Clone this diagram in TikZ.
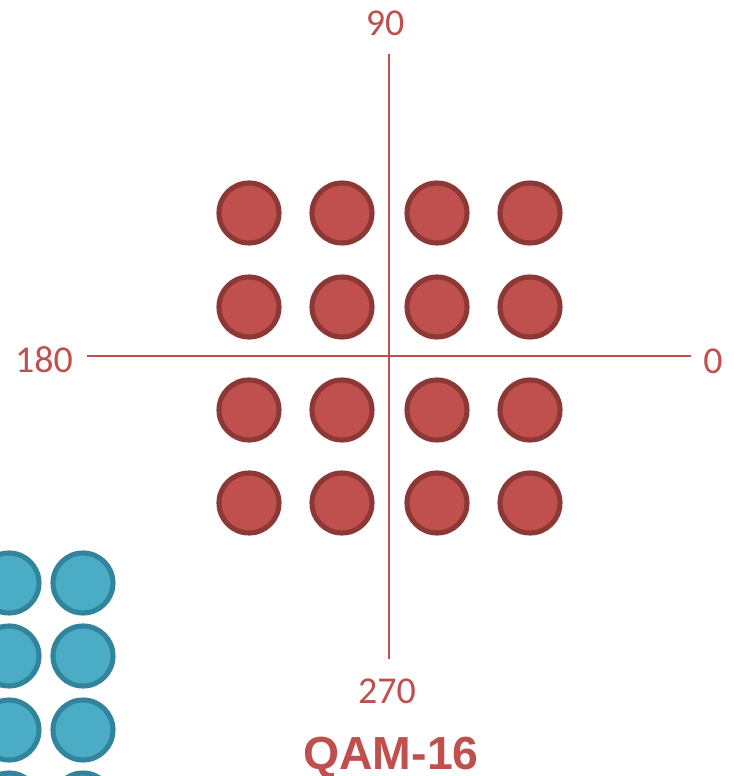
\documentclass[tikz,border=0pt]{standalone}
\usepackage{fontspec}
\setmainfont{Carlito}
\newfontfamily\headfont{Liberation Sans}
\usepackage{xcolor}
\usetikzlibrary{positioning}

\definecolor{qamred}{HTML}{C0504D}
\definecolor{qamredline}{HTML}{8C3836}
\definecolor{qamblue}{HTML}{4BACC6}
\definecolor{qambluedark}{HTML}{31849B}

\begin{document}
\begin{tikzpicture}[
  x=0.025cm, y=0.025cm,
  dot/.style={circle, draw=qamredline, fill=qamred, line width=3.6pt, minimum size=1.5cm, inner sep=0pt},
  bdot/.style={dot, draw=qambluedark, fill=qamblue},
  axis/.style={draw=qamred, line width=1.4pt},
  lbl/.style={font=\fontsize{27}{31}\selectfont, text=qamred, inner sep=0pt},
  heading/.style={font=\headfont\bfseries\fontsize{33}{38}\selectfont, text=qamred, inner sep=0pt}
]
\clip (-389,-420) rectangle (344,356);

% axes
\coordinate (top) at (0,302);
\coordinate (bot) at (0,-303);
\coordinate (west) at (-302,0);
\coordinate (east) at (302,0);
\draw[axis] (west) -- (east);
\draw[axis] (top) -- (bot);

\node[lbl] (l90) at (-4,333) {90};
\node[lbl] (l270) at (-2,-335) {270};
\node[lbl] (l180) at (-345,-4) {180};
\node[lbl] (l0) at (324,-5) {0};

% constellation points
\node[dot] (d11) at (-140,143) {};
\node[dot] (d12) at (-47,143) {};
\node[dot] (d13) at (48,143) {};
\node[dot] (d14) at (141,143) {};
\node[dot] (d21) at (-140,49) {};
\node[dot] (d22) at (-47,49) {};
\node[dot] (d23) at (48,49) {};
\node[dot] (d24) at (141,49) {};
\node[dot] (d31) at (-140,-54) {};
\node[dot] (d32) at (-47,-54) {};
\node[dot] (d33) at (48,-54) {};
\node[dot] (d34) at (141,-54) {};
\node[dot] (d41) at (-140,-147) {};
\node[dot] (d42) at (-47,-147) {};
\node[dot] (d43) at (48,-147) {};
\node[dot] (d44) at (141,-147) {};

% neighbouring (cut off) constellation
\node[bdot] (b11) at (-380,-227) {};
\node[bdot] (b12) at (-306,-227) {};
\node[bdot] (b21) at (-380,-300) {};
\node[bdot] (b22) at (-306,-300) {};
\node[bdot] (b31) at (-380,-374) {};
\node[bdot] (b32) at (-306,-374) {};
\node[bdot] (b41) at (-380,-447) {};
\node[bdot] (b42) at (-306,-447) {};

\node[heading, anchor=base] (name) at (2,-413) {QAM-16};

\end{tikzpicture}
\end{document}
